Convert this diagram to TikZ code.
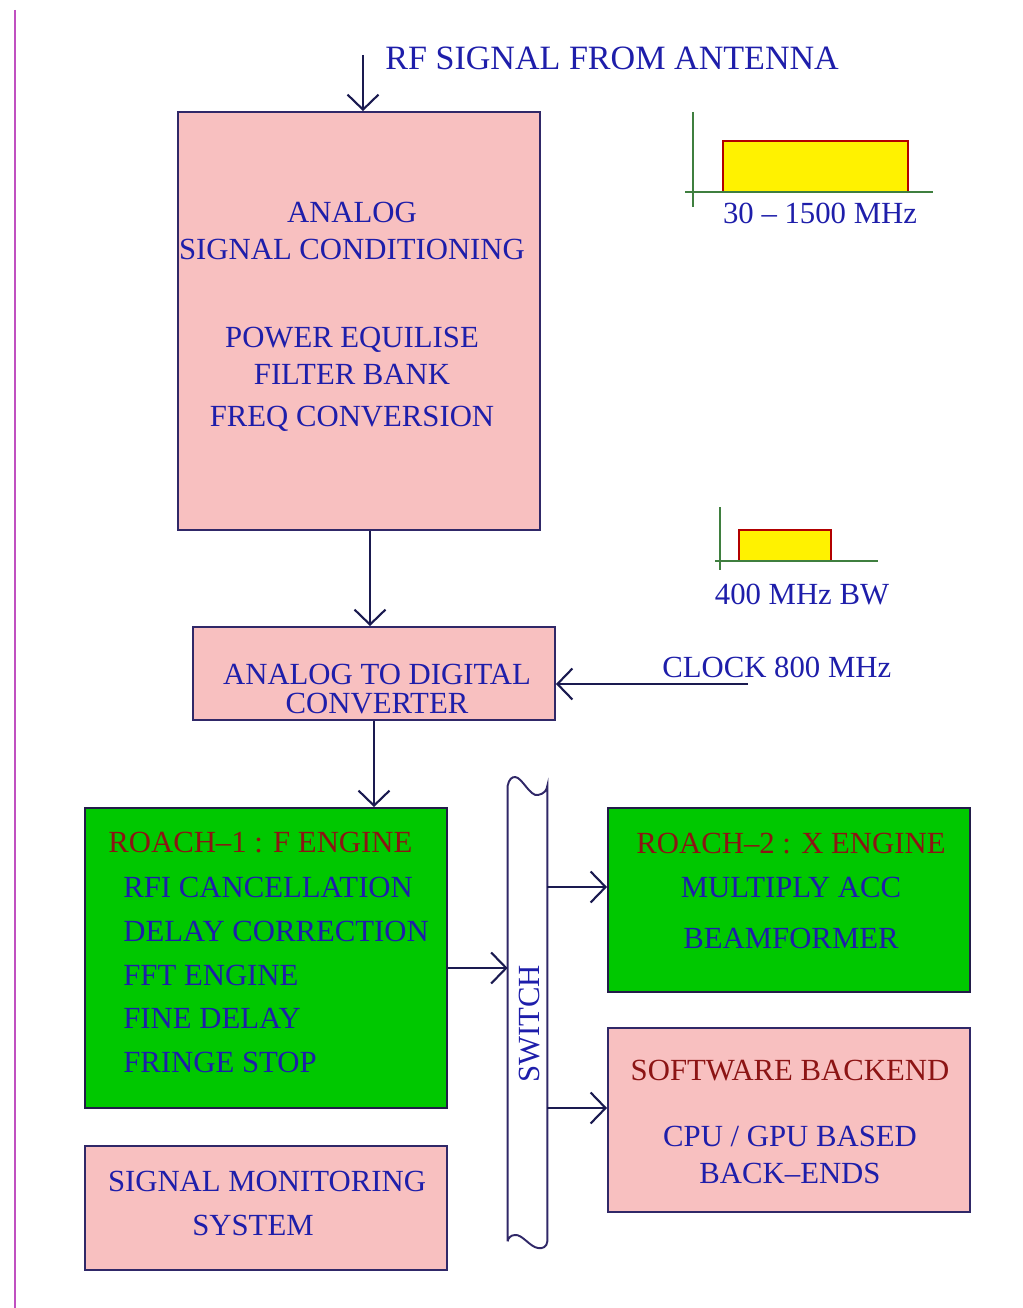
\documentclass[tikz,border=0pt]{standalone}
\usepackage{fontspec}
\setmainfont{Liberation Serif}
\usetikzlibrary{positioning,arrows.meta,calc}
\definecolor{TxtBlue}{HTML}{1E1EAA}
\definecolor{TitleRed}{HTML}{8C1414}
\definecolor{BoxPink}{HTML}{F8C0C0}
\definecolor{BoxGreen}{HTML}{00C800}
\definecolor{EdgeNavy}{HTML}{302868}
\definecolor{ArrowNavy}{HTML}{1A1A50}
\definecolor{AxisGreen}{HTML}{3F7F3F}
\definecolor{SideMagenta}{HTML}{C050C0}

\begin{document}
\begin{tikzpicture}[x=0.02cm, y=-0.02cm,
  every node/.style={font=\fontsize{17.5}{21}\selectfont, inner sep=0pt},
  pinkbox/.style={draw=EdgeNavy, line width=1.1pt, fill=BoxPink,
                  minimum width=7.24cm},
  greenbox/.style={draw=EdgeNavy!70!black, line width=1.1pt, fill=BoxGreen,
                   minimum width=7.24cm},
  txt/.style={text=TxtBlue, align=center},
  ttl/.style={text=TitleRed},
  flow/.style={draw=ArrowNavy, line width=1.2pt,
               -{Straight Barb[length=0.3cm, width=0.62cm]}},
  axis/.style={draw=AxisGreen, line width=0.9pt},
  band/.style={draw=red!70!black, line width=0.8pt, fill=yellow}]

  \useasboundingbox (0,0) rectangle (1023,1308);

  % ---- margin rule ----
  \draw[SideMagenta, line width=1.3pt] (15,10) -- (15,1308);

  % ===== input =====
  \coordinate (rfsrc) at (363,55);
  \node[text=TxtBlue, anchor=west, font=\fontsize{19.4}{23}\selectfont] (rf) at (385,58)
        {RF SIGNAL FROM ANTENNA};

  % ===== analog chain =====
  \node[pinkbox, minimum height=8.36cm] (cond) at (359,321) {};
  \node[txt] (condtxt) at (352,317)
        {ANALOG\\ SIGNAL CONDITIONING\\[1.02cm]
         POWER EQUILISE\\ FILTER BANK\\[0.12cm] FREQ CONVERSION};

  \node[pinkbox, minimum height=1.86cm] (adc) at (374,673.5) {};
  \node[txt, font=\fontsize{17.5}{16}\selectfont] (adctxt) at (377,689)
        {ANALOG TO DIGITAL\\ CONVERTER};

  \coordinate (clksrc) at (748,684);
  \node[text=TxtBlue, anchor=west] (clk) at (662,667) {CLOCK 800 MHz};

  % ===== spectra =====
  \draw[band] (723,192) rectangle (908,141);
  \draw[axis] (693,112) -- (693,207) (685,192) -- (933,192);
  \node[text=TxtBlue] (band1) at (820,213) {30 -- 1500 MHz};

  \draw[band] (739,561) rectangle (831,530);
  \draw[axis] (720,507) -- (720,570) (715,561) -- (878,561);
  \node[text=TxtBlue] (band2) at (802,595) {400 MHz BW};

  % ===== digital back end =====
  \node[greenbox, minimum height=6.0cm] (f1) at (266,958) {};
  \node[ttl, anchor=west] (f1ttl) at (108,843) {ROACH--1 : F ENGINE};
  \node[txt, align=left, anchor=west, font=\fontsize{17.5}{25}\selectfont] (f1txt) at (123,975)
        {RFI CANCELLATION\\ DELAY CORRECTION\\ FFT ENGINE\\ FINE DELAY\\ FRINGE STOP};

  \node[pinkbox, minimum height=2.48cm] (mon) at (266,1208) {};
  \node[txt, font=\fontsize{17.5}{25}\selectfont] (montxt) at (267,1203)
        {SIGNAL MONITORING\\ SYSTEM\hspace*{0.56cm}};

  \node[minimum width=0.78cm, minimum height=9.1cm] (sw) at (527.5,1013.5) {};
  \draw[EdgeNavy, line width=1.1pt]
        (sw.south west) -- (sw.north west)
        .. controls (509,779) and (512,777) .. (515,777)
        .. controls (522,777) and (530,797) .. (538,795)
        .. controls (544,794) and (547,790) .. (sw.north east)
        -- (sw.south east)
        .. controls (547,1247) and (542,1249) .. (538,1248)
        .. controls (530,1247) and (522,1234) .. (515,1235)
        .. controls (511,1235) and (508,1238) .. (sw.south west);
  \node[text=TxtBlue, rotate=90] (swtxt) at (530,1024) {SWITCH};

  \node[greenbox, minimum height=3.68cm] (x2) at (789,900) {};
  \node[txt, font=\fontsize{17.5}{25}\selectfont] (x2txt) at (791,891)
        {\textcolor{TitleRed}{ROACH--2 : X ENGINE}\\ MULTIPLY ACC\\[0.14cm] BEAMFORMER};

  \node[pinkbox, minimum height=3.68cm] (sb) at (789,1120) {};
  \node[txt, font=\fontsize{17.5}{21}\selectfont] (sbtxt) at (790,1122)
        {\textcolor{TitleRed}{SOFTWARE BACKEND}\\[0.58cm] CPU / GPU BASED\\ BACK--ENDS};

  % ===== connectors =====
  \coordinate (c2a) at ([xshift=0.22cm]cond.south);
  \coordinate (f1out) at ([yshift=-0.2cm]f1.east);
  \coordinate (x2in) at ([yshift=0.26cm]x2.west);
  \coordinate (sbin) at ([yshift=0.24cm]sb.west);

  \draw[flow] (rfsrc) -- (rfsrc |- cond.north);
  \draw[flow] (c2a) -- (c2a |- adc.north);
  \draw[flow] (clksrc) -- (clksrc -| adc.east);
  \draw[flow] (adc.south) -- (adc.south |- f1.north);
  \draw[flow] (f1out) -- (f1out -| sw.west);
  \draw[flow] (sw.east |- x2in) -- (x2in);
  \draw[flow] (sw.east |- sbin) -- (sbin);

\end{tikzpicture}
\end{document}
